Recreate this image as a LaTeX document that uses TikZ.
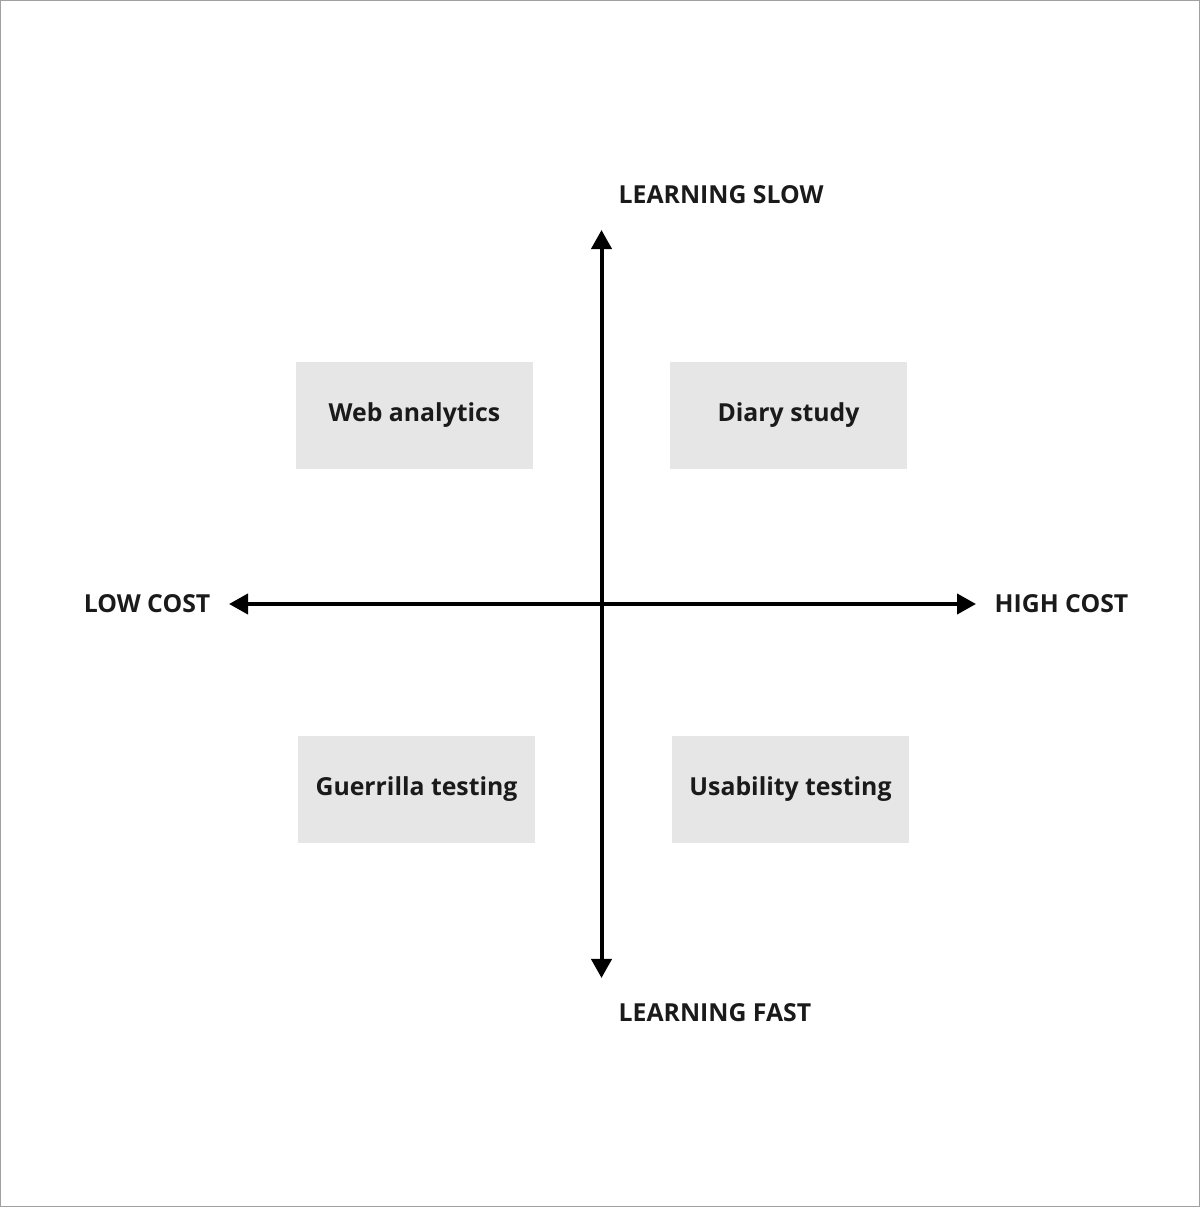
\documentclass[tikz,border=0pt]{standalone}
\usepackage{fontspec}
\setmainfont{Open Sans}
\usetikzlibrary{arrows.meta,positioning}
\definecolor{FrameGray}{RGB}{160,160,160}
\definecolor{BoxGray}{RGB}{230,230,230}
\definecolor{InkBlack}{RGB}{26,26,26}
\tikzset{
  quadrant/.style={fill=BoxGray,draw=none,minimum width=2.37cm,
    minimum height=1.07cm,align=center,font=\bfseries\fontsize{7.05}{9}\selectfont,
    text=InkBlack},
  axislabel/.style={inner sep=0pt,text depth=0pt,
    font=\bfseries\fontsize{7.05}{9}\selectfont,text=InkBlack},
  axis/.style={{Triangle[length=0.19cm,width=0.2cm]}-{Triangle[length=0.19cm,width=0.2cm]},
    line width=0.04cm,black}
}
\begin{document}
\begin{tikzpicture}[x=0.01cm,y=-0.01cm]

\useasboundingbox (0,0) rectangle (1200,1207);
\draw[FrameGray,line width=0.01cm] (0.5,0.5) rectangle (1199.5,1206.5);

% axis ends
\coordinate (top) at (601.5,230);
\coordinate (bottom) at (601.5,978);
\coordinate (left) at (229,604);
\coordinate (right) at (976,604);

\draw[axis] (bottom) -- (top);
\draw[axis] (left) -- (right);

\node[axislabel,anchor=west] (slow) at (618,195) {LEARNING SLOW};
\node[axislabel,anchor=west] (fast) at (618,1013) {LEARNING FAST};
\node[axislabel,anchor=east] (low) at (211,604) {LOW COST};
\node[axislabel,anchor=west] (high) at (994,604) {HIGH COST};

% quadrants
\node[quadrant] (web) at (414.5,415.5) {Web analytics};
\node[quadrant] (diary) at (788.5,415.5) {Diary study};
\node[quadrant] (guerrilla) at (416.5,789.5) {Guerrilla testing};
\node[quadrant] (usability) at (790.5,789.5) {Usability testing};

\end{tikzpicture}
\end{document}
